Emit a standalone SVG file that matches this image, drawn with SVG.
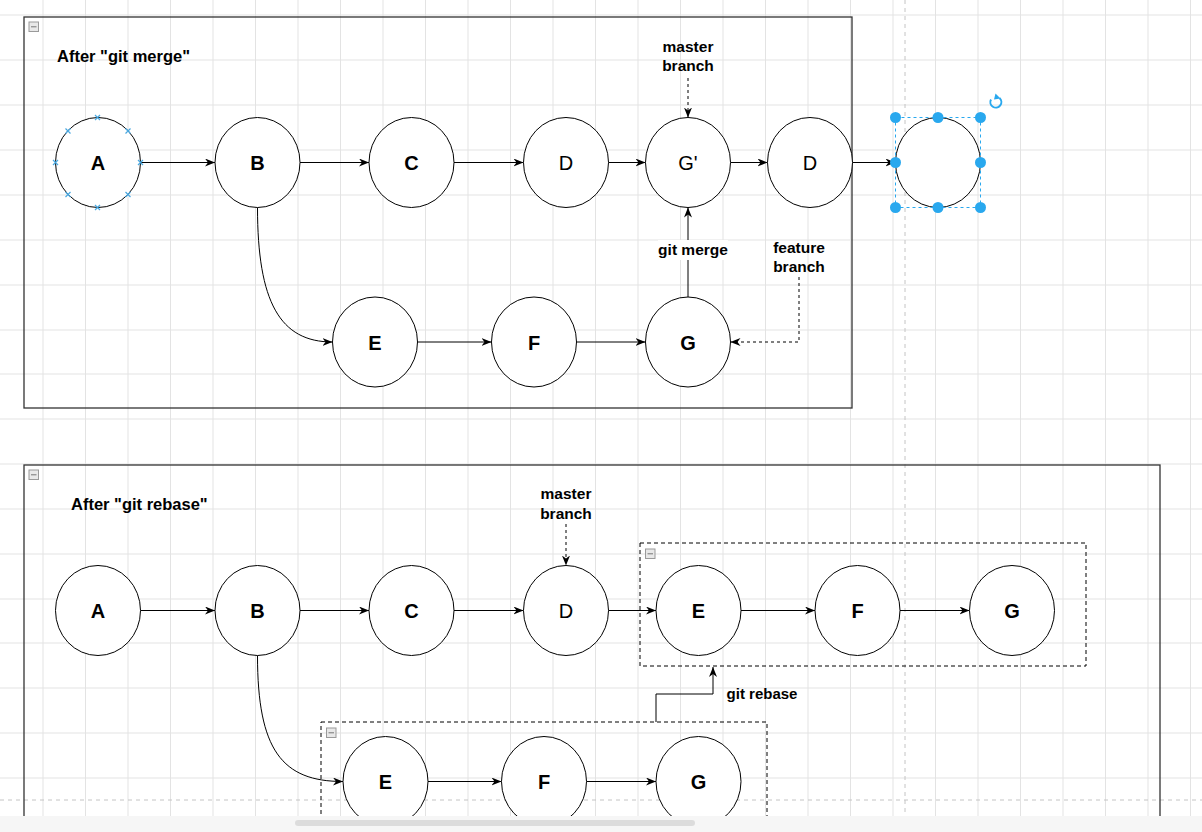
<svg xmlns="http://www.w3.org/2000/svg" width="1202" height="832" viewBox="0 0 1202 832">
<defs>
<style>
.grid line{stroke:#e3e3e3;stroke-width:1}
.guide{stroke:#c4c4c4;stroke-width:1;stroke-dasharray:4 4;fill:none}
.frame{fill:none;stroke:#333;stroke-width:1.3}
.dbox{fill:none;stroke:#000;stroke-width:1;stroke-dasharray:4 3}
.node{fill:#fff;stroke:#000;stroke-width:1}
.nl{font-family:"Liberation Sans",Arial,sans-serif;font-size:20px;text-anchor:middle;fill:#000}
.b{font-weight:bold}
.lbl{font-family:"Liberation Sans",Arial,sans-serif;font-size:15.5px;font-weight:bold;text-anchor:middle;fill:#000}
.title{font-family:"Liberation Sans",Arial,sans-serif;font-size:16.5px;font-weight:bold;fill:#000}
.edge{fill:none;stroke:#000;stroke-width:1;marker-end:url(#arr)}
.dash{stroke-dasharray:3 3}
.col rect{fill:#e8e8e8;stroke:#9a9a9a;stroke-width:1}
.col line{stroke:#777;stroke-width:1}
.cp{stroke:#4aa8e0;stroke-width:1.2}
.h{fill:#29a8ee}
</style>
<marker id="arr" viewBox="0 0 10 8" refX="10" refY="4" markerWidth="10" markerHeight="8" orient="auto" markerUnits="userSpaceOnUse">
<path d="M0,0 L10,4 L0,8 L3,4 z" fill="#000"/>
</marker>
</defs>
<rect width="1202" height="832" fill="#fff"/>
<g class="grid">
<line x1="43" y1="0" x2="43" y2="832"/><line x1="85.5" y1="0" x2="85.5" y2="832"/><line x1="128" y1="0" x2="128" y2="832"/><line x1="170.5" y1="0" x2="170.5" y2="832"/><line x1="213" y1="0" x2="213" y2="832"/><line x1="255.5" y1="0" x2="255.5" y2="832"/><line x1="298" y1="0" x2="298" y2="832"/><line x1="340.5" y1="0" x2="340.5" y2="832"/><line x1="383" y1="0" x2="383" y2="832"/><line x1="425.5" y1="0" x2="425.5" y2="832"/><line x1="468" y1="0" x2="468" y2="832"/><line x1="510.5" y1="0" x2="510.5" y2="832"/><line x1="553" y1="0" x2="553" y2="832"/><line x1="595.5" y1="0" x2="595.5" y2="832"/><line x1="638" y1="0" x2="638" y2="832"/><line x1="680.5" y1="0" x2="680.5" y2="832"/><line x1="723" y1="0" x2="723" y2="832"/><line x1="765.5" y1="0" x2="765.5" y2="832"/><line x1="808" y1="0" x2="808" y2="832"/><line x1="850.5" y1="0" x2="850.5" y2="832"/><line x1="893" y1="0" x2="893" y2="832"/><line x1="935.5" y1="0" x2="935.5" y2="832"/><line x1="978" y1="0" x2="978" y2="832"/><line x1="1020.5" y1="0" x2="1020.5" y2="832"/><line x1="1063" y1="0" x2="1063" y2="832"/><line x1="1105.5" y1="0" x2="1105.5" y2="832"/><line x1="1148" y1="0" x2="1148" y2="832"/><line x1="1190.5" y1="0" x2="1190.5" y2="832"/>
<line x1="0" y1="15" x2="1202" y2="15"/><line x1="0" y1="60" x2="1202" y2="60"/><line x1="0" y1="105" x2="1202" y2="105"/><line x1="0" y1="150" x2="1202" y2="150"/><line x1="0" y1="195" x2="1202" y2="195"/><line x1="0" y1="240" x2="1202" y2="240"/><line x1="0" y1="285" x2="1202" y2="285"/><line x1="0" y1="330" x2="1202" y2="330"/><line x1="0" y1="374" x2="1202" y2="374"/><line x1="0" y1="419" x2="1202" y2="419"/><line x1="0" y1="464" x2="1202" y2="464"/><line x1="0" y1="509" x2="1202" y2="509"/><line x1="0" y1="554" x2="1202" y2="554"/><line x1="0" y1="599" x2="1202" y2="599"/><line x1="0" y1="643" x2="1202" y2="643"/><line x1="0" y1="688" x2="1202" y2="688"/><line x1="0" y1="733" x2="1202" y2="733"/><line x1="0" y1="778" x2="1202" y2="778"/>
</g>
<line class="guide" x1="905" y1="0" x2="905" y2="815"/>
<line class="guide" x1="0" y1="800" x2="1202" y2="800"/>

<g id="frame-merge">
<rect class="frame" x="24" y="17" width="828" height="391"/>
<g class="col"><rect x="29" y="22" width="9.5" height="9.5"/><line x1="31" y1="26.8" x2="36.5" y2="26.8"/></g>
<text class="title" x="57" y="62">After "git merge"</text>
</g>
<g id="frame-rebase">
<rect class="frame" x="24" y="465" width="1136" height="420"/>
<g class="col"><rect x="29" y="470" width="9.5" height="9.5"/><line x1="31" y1="474.8" x2="36.5" y2="474.8"/></g>
<text class="title" x="71" y="510">After "git rebase"</text>
</g>
<g id="box-rebased">
<rect class="dbox" x="640" y="543" width="446" height="123"/>
<g class="col"><rect x="645.5" y="549" width="9.5" height="9.5"/><line x1="647.5" y1="553.8" x2="653" y2="553.8"/></g>
</g>
<g id="box-old">
<rect class="dbox" x="321" y="722" width="446" height="160"/>
<g class="col"><rect x="326.5" y="728" width="9.5" height="9.5"/><line x1="328.5" y1="732.8" x2="334" y2="732.8"/></g>
</g>

<g id="connectors">
<line class="edge" x1="140.5" y1="162.5" x2="215" y2="162.5"/>
<line class="edge" x1="300" y1="162.5" x2="369" y2="162.5"/>
<line class="edge" x1="454" y1="162.5" x2="523.5" y2="162.5"/>
<line class="edge" x1="608.5" y1="162.5" x2="645.5" y2="162.5"/>
<line class="edge" x1="730.5" y1="162.5" x2="767.5" y2="162.5"/>
<line class="edge" x1="852.5" y1="162.5" x2="895.5" y2="162.5"/>
<path class="edge" d="M257.5,207.5 C257.5,302 280,342 332.5,342"/>
<line class="edge" x1="417.5" y1="342" x2="491.5" y2="342"/>
<line class="edge" x1="576.5" y1="342" x2="645.5" y2="342"/>
<line class="edge" x1="688" y1="297" x2="688" y2="207.5"/>
<line class="edge dash" x1="688" y1="78" x2="688" y2="117.5"/>
<path class="edge dash" d="M799,277 V342 H730.5"/>
<line class="edge" x1="140.5" y1="610.5" x2="215" y2="610.5"/>
<line class="edge" x1="300" y1="610.5" x2="369" y2="610.5"/>
<line class="edge" x1="454" y1="610.5" x2="523.5" y2="610.5"/>
<line class="edge" x1="608.5" y1="610.5" x2="656" y2="610.5"/>
<line class="edge" x1="741" y1="610.5" x2="815" y2="610.5"/>
<line class="edge" x1="900" y1="610.5" x2="969.5" y2="610.5"/>
<line class="edge dash" x1="566" y1="524" x2="566" y2="565.5"/>
<path class="edge" d="M257.5,655.5 C257.5,750 282,781.5 343,781.5"/>
<line class="edge" x1="428" y1="781.5" x2="501.5" y2="781.5"/>
<line class="edge" x1="586.5" y1="781.5" x2="656" y2="781.5"/>
<path class="edge" d="M656,722 V694 H713 V667"/>
<rect x="658" y="240" width="70" height="20" fill="#fff"/>
<text class="lbl" x="693" y="255">git merge</text>
<text class="lbl" x="762" y="698.5" style="font-size:15px">git rebase</text>
</g>

<g id="lbl-master-top"><text class="lbl" x="688" y="51.5">master</text><text class="lbl" x="688" y="71">branch</text></g>
<g id="lbl-feature"><text class="lbl" x="799" y="252.5">feature</text><text class="lbl" x="799" y="272">branch</text></g>
<g id="lbl-master-bottom"><text class="lbl" x="566" y="499">master</text><text class="lbl" x="566" y="518.5">branch</text></g>

<g id="m-A"><ellipse class="node" cx="98" cy="162.5" rx="42.5" ry="45"/><text class="nl b" x="98" y="170">A</text>
<g class="cp"><path d="M95,115 l5,5 M100,115 l-5,5"/><path d="M65.5,128.5 l5,5 M70.5,128.5 l-5,5"/><path d="M125.5,128.5 l5,5 M130.5,128.5 l-5,5"/><path d="M53,160 l5,5 M58,160 l-5,5"/><path d="M138,160 l5,5 M143,160 l-5,5"/><path d="M65.5,192 l5,5 M70.5,192 l-5,5"/><path d="M125.5,192 l5,5 M130.5,192 l-5,5"/><path d="M95,205 l5,5 M100,205 l-5,5"/></g></g>
<g id="m-B"><ellipse class="node" cx="257.5" cy="162.5" rx="42.5" ry="45"/><text class="nl b" x="257.5" y="170">B</text></g>
<g id="m-C"><ellipse class="node" cx="411.5" cy="162.5" rx="42.5" ry="45"/><text class="nl b" x="411.5" y="170">C</text></g>
<g id="m-D"><ellipse class="node" cx="566" cy="162.5" rx="42.5" ry="45"/><text class="nl" x="566" y="170">D</text></g>
<g id="m-G2"><ellipse class="node" cx="688" cy="162.5" rx="42.5" ry="45"/><text class="nl" x="688" y="170">G'</text></g>
<g id="m-D2"><ellipse class="node" cx="810" cy="162.5" rx="42.5" ry="45"/><text class="nl" x="810" y="170">D</text></g>
<g id="m-sel"><ellipse class="node" cx="938" cy="162.5" rx="42.5" ry="45"/>
<rect x="895.5" y="117.5" width="85" height="90" fill="none" stroke="#29a8ee" stroke-width="1" stroke-dasharray="3 3"/>
<circle class="h" cx="895.5" cy="117.5" r="5.5"/><circle class="h" cx="938" cy="117.5" r="5.5"/><circle class="h" cx="980.5" cy="117.5" r="5.5"/>
<circle class="h" cx="895.5" cy="162.5" r="5.5"/><circle class="h" cx="980.5" cy="162.5" r="5.5"/>
<circle class="h" cx="895.5" cy="207.5" r="5.5"/><circle class="h" cx="938" cy="207.5" r="5.5"/><circle class="h" cx="980.5" cy="207.5" r="5.5"/>
<path d="M999.5,98 A5.5,5.5 0 1 1 991,99.5" fill="none" stroke="#29a8ee" stroke-width="2"/><path d="M995.5,93.5 L1000.5,98.5 L994,99.5 z" fill="#29a8ee"/>
</g>
<g id="m-E"><ellipse class="node" cx="375" cy="342" rx="42.5" ry="45"/><text class="nl b" x="375" y="349.5">E</text></g>
<g id="m-F"><ellipse class="node" cx="534" cy="342" rx="42.5" ry="45"/><text class="nl b" x="534" y="349.5">F</text></g>
<g id="m-G"><ellipse class="node" cx="688" cy="342" rx="42.5" ry="45"/><text class="nl b" x="688" y="349.5">G</text></g>

<g id="r-A"><ellipse class="node" cx="98" cy="610.5" rx="42.5" ry="45"/><text class="nl b" x="98" y="618">A</text></g>
<g id="r-B"><ellipse class="node" cx="257.5" cy="610.5" rx="42.5" ry="45"/><text class="nl b" x="257.5" y="618">B</text></g>
<g id="r-C"><ellipse class="node" cx="411.5" cy="610.5" rx="42.5" ry="45"/><text class="nl b" x="411.5" y="618">C</text></g>
<g id="r-D"><ellipse class="node" cx="566" cy="610.5" rx="42.5" ry="45"/><text class="nl" x="566" y="618">D</text></g>
<g id="r-E"><ellipse class="node" cx="698.5" cy="610.5" rx="42.5" ry="45"/><text class="nl b" x="698.5" y="618">E</text></g>
<g id="r-F"><ellipse class="node" cx="857.5" cy="610.5" rx="42.5" ry="45"/><text class="nl b" x="857.5" y="618">F</text></g>
<g id="r-G"><ellipse class="node" cx="1012" cy="610.5" rx="42.5" ry="45"/><text class="nl b" x="1012" y="618">G</text></g>
<g id="o-E"><ellipse class="node" cx="385.5" cy="781.5" rx="42.5" ry="45"/><text class="nl b" x="385.5" y="789">E</text></g>
<g id="o-F"><ellipse class="node" cx="544" cy="781.5" rx="42.5" ry="45"/><text class="nl b" x="544" y="789">F</text></g>
<g id="o-G"><ellipse class="node" cx="698.5" cy="781.5" rx="42.5" ry="45"/><text class="nl b" x="698.5" y="789">G</text></g>

<g id="scrollbar">
<rect x="0" y="816" width="1202" height="16" fill="#f6f6f6"/>
<rect x="295" y="820" width="400" height="6" rx="3" fill="#dcdcdc"/>
</g>
</svg>
